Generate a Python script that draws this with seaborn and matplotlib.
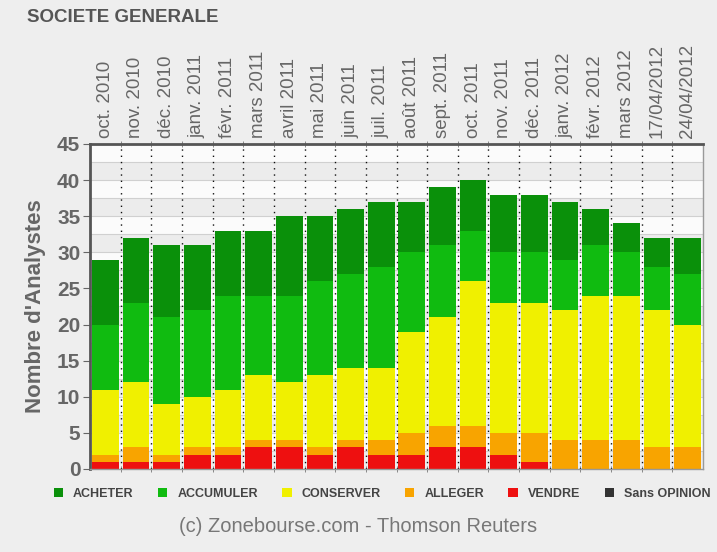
import pandas as pd
import numpy as np
import matplotlib
matplotlib.use('Agg')
import matplotlib.pyplot as plt
from matplotlib.patches import Patch
import seaborn as sns

# Données (nombre d'analystes par recommandation)
periodes = ['oct. 2010', 'nov. 2010', 'déc. 2010', 'janv. 2011', 'févr. 2011',
            'mars 2011', 'avril 2011', 'mai 2011', 'juin 2011', 'juil. 2011',
            'août 2011', 'sept. 2011', 'oct. 2011', 'nov. 2011', 'déc. 2011',
            'janv. 2012', 'févr. 2012', 'mars 2012', '17/04/2012', '24/04/2012']
vendre = [1, 1, 1, 2, 2, 3, 3, 2, 3, 2, 2, 3, 3, 2, 1, 0, 0, 0, 0, 0]
alleger = [1, 2, 1, 1, 1, 1, 1, 1, 1, 2, 3, 3, 3, 3, 4, 4, 4, 4, 3, 3]
conserver = [9, 9, 7, 7, 8, 9, 8, 10, 10, 10, 14, 15, 20, 18, 18, 18, 20, 20, 19, 17]
accumuler = [9, 11, 12, 12, 13, 11, 12, 13, 13, 14, 11, 10, 7, 7, 7, 7, 7, 6, 6, 7]
acheter = [9, 9, 10, 9, 9, 9, 11, 9, 9, 9, 7, 8, 7, 8, 8, 8, 5, 4, 4, 5]
sans_opinion = [0] * 20

categories = ['VENDRE', 'ALLEGER', 'CONSERVER', 'ACCUMULER', 'ACHETER']
legende = ['ACHETER', 'ACCUMULER', 'CONSERVER', 'ALLEGER', 'VENDRE', 'Sans OPINION']
couleurs = {
    'ACHETER': '#0a900a',
    'ACCUMULER': '#10bb10',
    'CONSERVER': '#f0f000',
    'ALLEGER': '#f8a400',
    'VENDRE': '#ee1010',
    'Sans OPINION': '#333333',
}

df = pd.DataFrame({
    'Periode': periodes,
    'VENDRE': vendre,
    'ALLEGER': alleger,
    'CONSERVER': conserver,
    'ACCUMULER': accumuler,
    'ACHETER': acheter,
})
# cumul pour empiler les barres
cumul = df[categories].cumsum(axis=1)
cumul['Periode'] = df['Periode']

sns.set_style('white')
plt.rcParams['font.family'] = ['Liberation Sans', 'DejaVu Sans']

fig = plt.figure(figsize=(7.17, 5.52), dpi=100, facecolor='#eeeeee')
ax = fig.add_axes([0.1255, 0.1504, 0.855, 0.5888])
ax.set_facecolor('#fbfbfb')

# bandes horizontales alternées
for k in range(18):
    if k % 2 == 0:
        ax.axhspan(k * 2.5, (k + 1) * 2.5, color='#ececec', zorder=0, lw=0)
    ax.axhline((k + 1) * 2.5, color='#d0d0d0', lw=0.8, zorder=0.5)

# du haut vers le bas : chaque couche recouvre la précédente
for cat in categories[::-1]:
    sns.barplot(data=cumul, x='Periode', y=cat, order=periodes, color=couleurs[cat],
                saturation=1, width=0.87, linewidth=0, ax=ax, zorder=2)

# séparateurs pointillés entre les barres
for i in range(len(periodes) - 1):
    ax.axvline(i + 0.5, color='#111111', lw=1.0, ls=(0, (1, 3.5)), zorder=3)

ax.set_xlim(-0.5, len(periodes) - 0.5)
ax.set_ylim(0, 45)
ax.set_yticks(np.arange(0, 46, 5))
ax.set_xlabel('')
ax.set_ylabel("Nombre d'Analystes", fontsize=16, fontweight='bold', color='#666666', labelpad=8)

ax.xaxis.tick_top()
ax.set_xticks(range(len(periodes)))
ax.set_xticklabels(periodes, rotation=90, fontsize=13.5, color='#666666')
ax.tick_params(axis='x', which='major', length=0, pad=4)
ax.set_xticks(np.arange(0.5, len(periodes) - 1, 1), minor=True)
ax.tick_params(axis='x', which='minor', top=True, bottom=True, length=4,
               direction='inout', color='#777777')
ax.tick_params(axis='y', labelsize=15, labelcolor='#666666', length=5, color='#666666',
               left=True, pad=2)
for t in ax.get_yticklabels():
    t.set_fontweight('bold')

for side in ['top', 'left']:
    ax.spines[side].set_color('#555555')
    ax.spines[side].set_linewidth(2)
for side in ['bottom', 'right']:
    ax.spines[side].set_color('#999999')
    ax.spines[side].set_linewidth(1)
ax.spines['bottom'].set_zorder(4)

fig.text(0.038, 1 - 18 / 552, 'SOCIETE GENERALE', fontsize=13.5, fontweight='bold',
         color='#555555', va='center', ha='left')

poignees = [Patch(facecolor=couleurs[c], edgecolor='none') for c in legende]
leg = fig.legend(poignees, legende, loc='center', bbox_to_anchor=(0.533, 1 - 494 / 552),
                 ncol=6, frameon=False, handlelength=0.75, handleheight=0.75,
                 handletextpad=0.8, columnspacing=1.95,
                 prop={'size': 9, 'weight': 'bold'})
for t in leg.get_texts():
    t.set_color('#444444')

fig.text(0.5, 1 - 527 / 552, '(c) Zonebourse.com - Thomson Reuters', fontsize=14.5,
         color='#777777', ha='center', va='center')

plt.savefig('out.png', dpi=100, facecolor=fig.get_facecolor())
plt.close(fig)
